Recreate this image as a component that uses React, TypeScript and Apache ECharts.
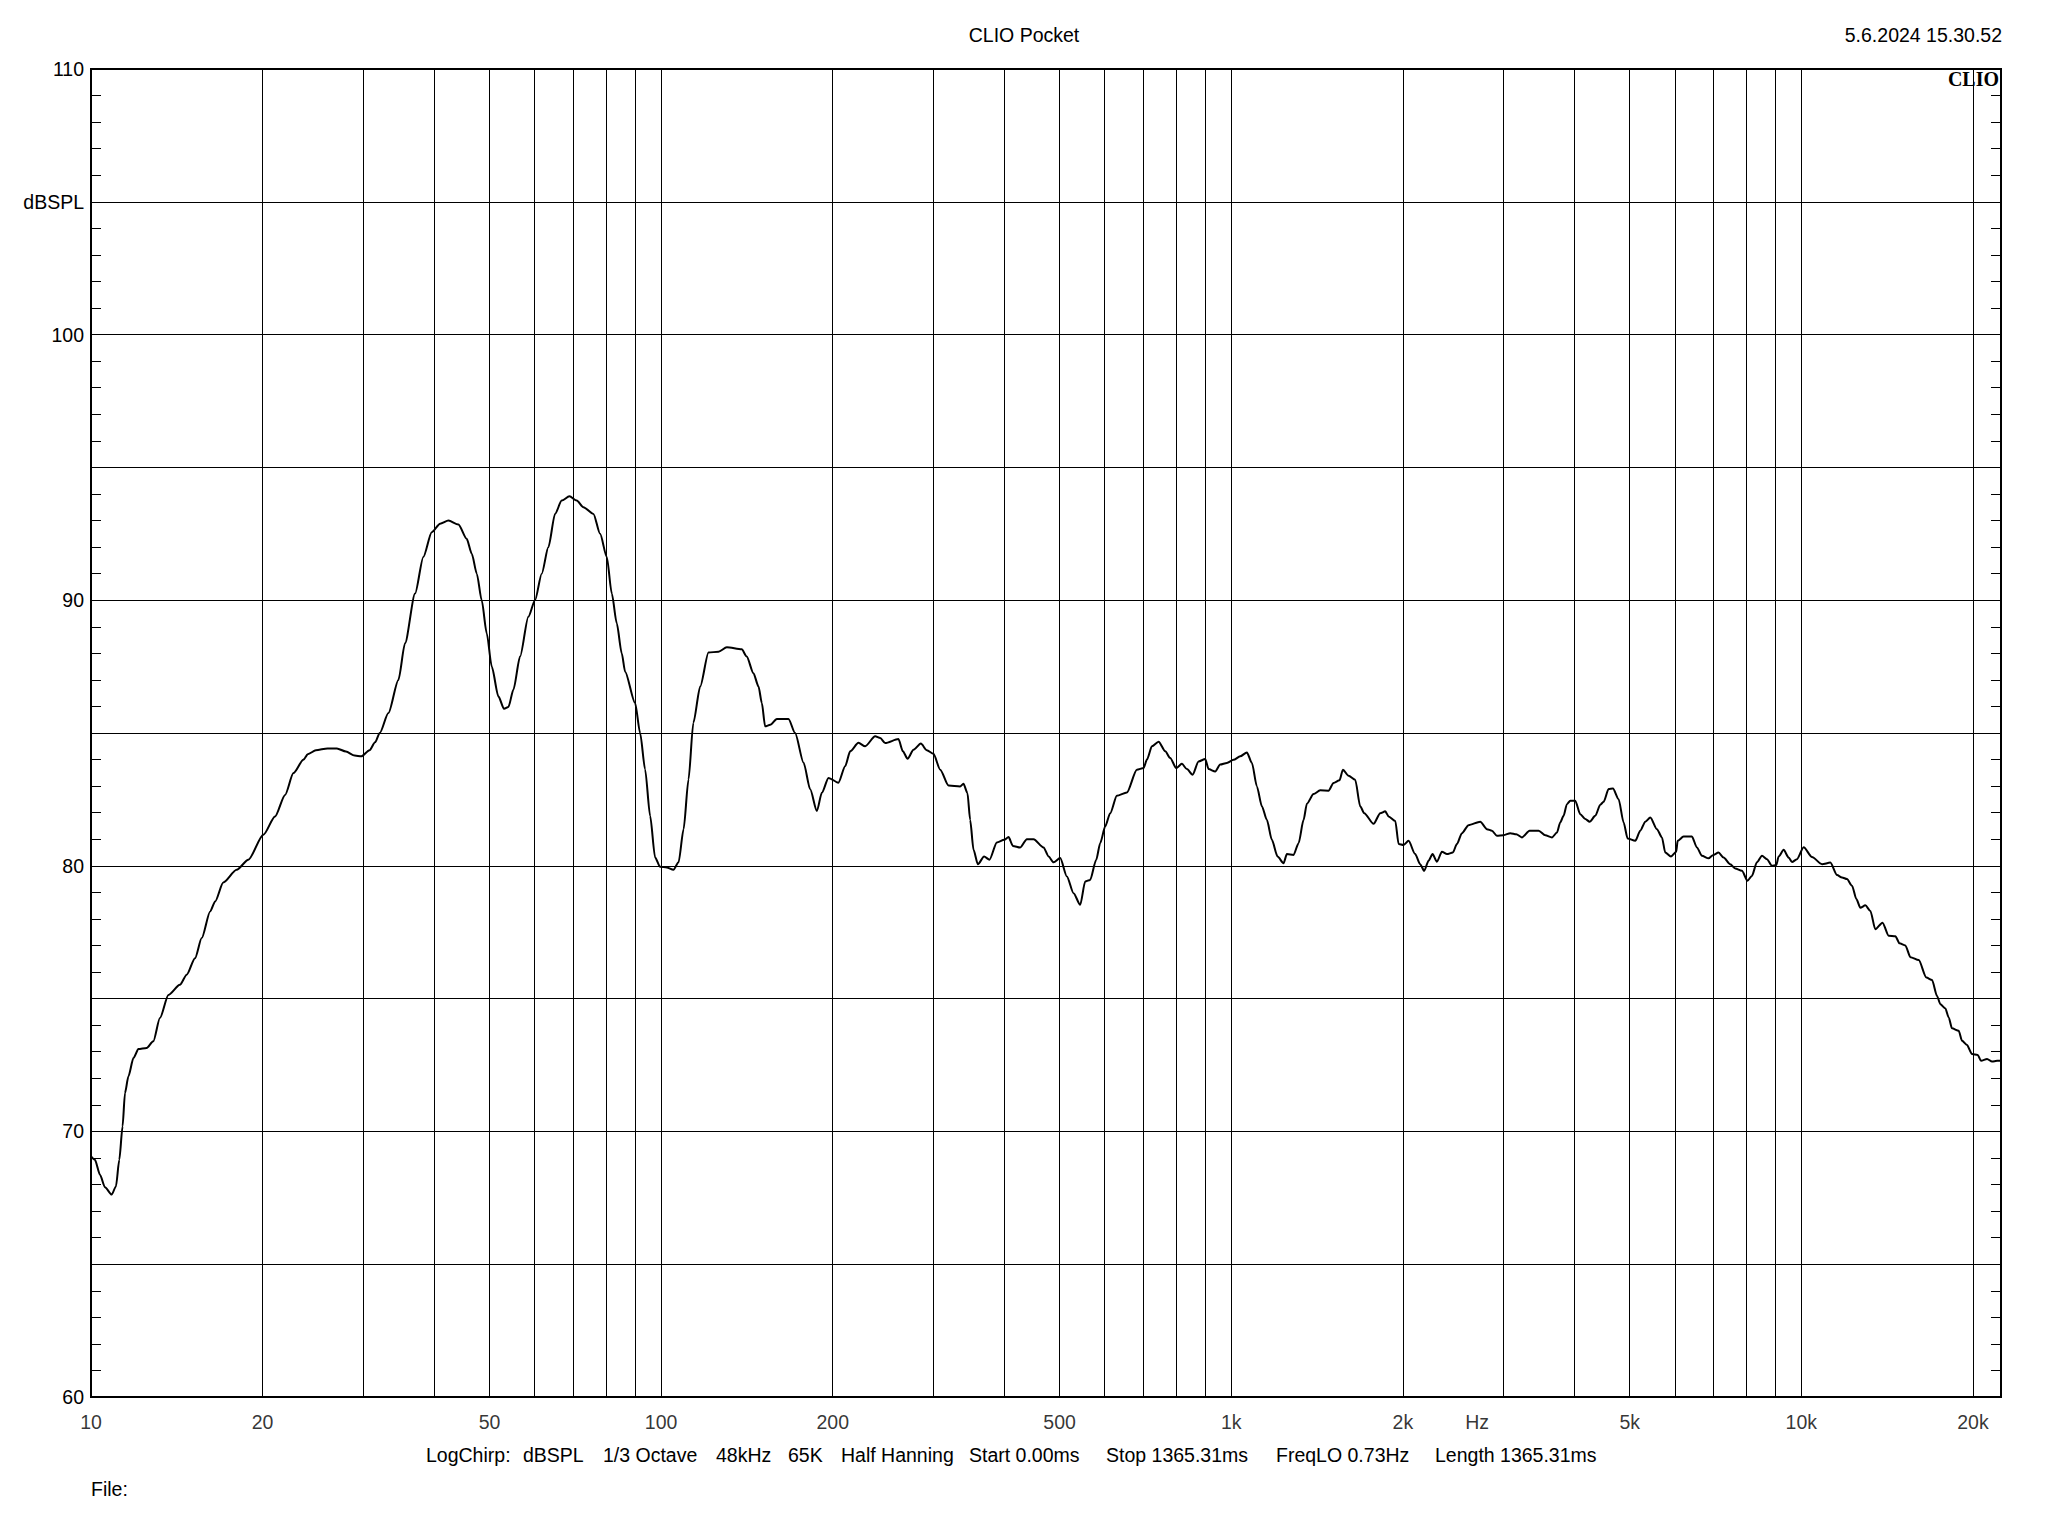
import React, { useEffect, useRef } from "react";
import * as echarts from "echarts";

const bassHz = [10, 10.16, 10.37, 10.58, 10.87, 11.06, 11.21, 11.36, 11.47, 11.63, 11.87, 12.11, 12.52, 12.86, 13.21, 13.67, 14.32, 14.72, 15.22, 15.64, 16.18, 16.51, 17.06, 18.01, 18.88, 20.06, 21.03, 21.9, 22.65, 23.58, 24.0, 24.8, 26.0, 27.0, 28.0, 29.0, 29.8, 30.8, 31.5, 32.1];
const bassDb = [69.06, 68.93, 68.37, 67.9, 67.62, 67.93, 68.93, 70.19, 71.44, 72.07, 72.76, 73.1, 73.14, 73.39, 74.27, 75.14, 75.52, 75.9, 76.52, 77.28, 78.28, 78.66, 79.37, 79.85, 80.23, 81.17, 81.86, 82.67, 83.49, 83.99, 84.2, 84.35, 84.42, 84.42, 84.3, 84.15, 84.12, 84.35, 84.65, 85.0];

const lowMidHz = [33.24, 34.61, 35.55, 37.02, 38.28, 39.6, 40.96, 42.36, 44.11, 45.6, 46.55, 47.5, 48.45, 49.45, 50.46, 51.83, 53.03, 53.97, 55.07, 56.57, 58.5, 60.1, 61.74, 63.43, 65.16, 66.94, 69.06, 71.12, 73.07, 76.08, 78.16, 80.3, 81.94, 83.6, 85.3, 86.46, 90.03, 91.87, 93.74, 95.66, 97.61, 99.6, 102.3, 105.1, 107.3, 109.5, 111.7, 113.9, 117.1, 121.1, 126.1, 130.4, 138.5, 141.3, 145.2, 148.2, 150.2, 152.2, 155.4, 159.6, 167.3, 171.8, 177.8, 182.6, 187.6, 191.4, 196.6, 204.6, 210.3, 214.6, 221.9, 228.0, 237.4];
const lowMidDb = [85.75, 87.0, 88.38, 90.25, 91.63, 92.56, 92.88, 93.0, 92.85, 92.31, 91.75, 91.0, 90.0, 88.75, 87.5, 86.38, 85.91, 85.98, 86.63, 87.88, 89.38, 90.0, 91.0, 92.0, 93.25, 93.75, 93.91, 93.75, 93.5, 93.25, 92.5, 91.63, 90.25, 89.13, 88.0, 87.31, 86.13, 85.0, 83.63, 81.88, 80.31, 79.96, 79.94, 79.85, 80.13, 81.38, 83.25, 85.38, 86.75, 88.03, 88.06, 88.23, 88.15, 87.88, 87.25, 86.75, 86.13, 85.25, 85.31, 85.53, 85.53, 85.0, 83.88, 82.88, 82.06, 82.75, 83.31, 83.13, 83.75, 84.31, 84.63, 84.5, 84.88];

const midHz = [242.3, 247.2, 260.8, 265.5, 270.6, 277.2, 285.5, 292.5, 300.4, 308.7, 319.3, 334.6, 339.1, 344.6, 348.4, 353.2, 359.4, 368.6, 376.7, 388.1, 399.8, 406.9, 414.0, 426.5, 438.1, 450.1, 468.7, 478.2, 487.9, 501.2, 514.9, 529.0, 543.4, 554.5, 565.7, 579.7, 589.1, 601.1, 613.4, 630.1, 656.1, 683.1, 702.0, 711.5, 726.0, 745.8, 766.2, 781.6, 800.8, 819.4, 836.1, 855.5, 876.4, 900.3, 912.7, 937.4, 956.5, 982.7, 1009.5, 1037, 1065.3, 1087.2, 1109.2, 1131.9, 1154.9, 1178.4, 1205.8, 1235.3, 1252.2, 1286.2, 1312.6, 1339.4, 1357.6, 1394.5, 1432.6, 1481.6, 1511.9, 1548.8, 1570, 1606.3, 1650.1, 1683.7, 1711.2, 1777.1, 1825.7, 1863, 1888.1];
const midDb = [84.81, 84.62, 84.77, 84.31, 84.03, 84.37, 84.6, 84.35, 84.22, 83.62, 83.02, 82.99, 83.09, 82.74, 81.73, 80.6, 80.06, 80.35, 80.23, 80.88, 80.98, 81.08, 80.75, 80.69, 81.0, 81.0, 80.69, 80.35, 80.13, 80.29, 79.6, 78.97, 78.53, 79.41, 79.47, 80.23, 80.85, 81.48, 81.98, 82.64, 82.76, 83.62, 83.68, 84.0, 84.5, 84.67, 84.31, 84.06, 83.68, 83.84, 83.64, 83.43, 83.93, 84.02, 83.64, 83.55, 83.81, 83.87, 83.99, 84.12, 84.27, 83.87, 82.99, 82.24, 81.73, 80.98, 80.35, 80.1, 80.44, 80.41, 80.85, 81.73, 82.34, 82.7, 82.84, 82.83, 83.12, 83.22, 83.62, 83.39, 83.24, 82.24, 81.98, 81.58, 81.98, 82.05, 81.86];

const highHz = [1940, 1966, 2006, 2047, 2102, 2145, 2180, 2219, 2255, 2295, 2342, 2390, 2448, 2488, 2539, 2608, 2734, 2809, 2866, 2924, 3004, 3087, 3162, 3235, 3337, 3462, 3556, 3653, 3727, 3777, 3828, 3880, 3933, 4013, 4095, 4179, 4253, 4351, 4440, 4500, 4592, 4673, 4781, 4879, 4958, 5114, 5218, 5325, 5434, 5582, 5695, 5772, 5906, 6035, 6067, 6215, 6428, 6560, 6693, 6875, 6998, 7158, 7305, 7504, 7657, 7866, 8047, 8190, 8357, 8531, 8705, 8882, 9039, 9125, 9311, 9501, 9630, 9826];
const highDb = [81.69, 80.82, 80.78, 80.94, 80.44, 80.06, 79.81, 80.19, 80.44, 80.15, 80.53, 80.44, 80.5, 80.82, 81.23, 81.53, 81.66, 81.38, 81.32, 81.13, 81.15, 81.23, 81.19, 81.07, 81.32, 81.32, 81.15, 81.07, 81.25, 81.63, 81.88, 82.32, 82.45, 82.45, 81.94, 81.76, 81.66, 81.88, 82.3, 82.41, 82.89, 82.91, 82.51, 81.63, 81.03, 80.94, 81.32, 81.66, 81.82, 81.38, 81.07, 80.5, 80.35, 80.53, 80.94, 81.1, 81.1, 80.69, 80.38, 80.28, 80.4, 80.5, 80.31, 80.06, 79.9, 79.81, 79.44, 79.62, 80.13, 80.38, 80.25, 80.0, 80.03, 80.35, 80.6, 80.31, 80.14, 80.25];

const topHz = [10095, 10440, 10873, 11244, 11552, 11786, 12026, 12272, 12489, 12692, 12951, 13215, 13485, 13880, 14230, 14619, 14870, 15222, 15540, 16066, 16571, 16955, 17298, 17533, 17892, 18135, 18380, 18880, 19138, 19525, 19924, 20388, 20664, 21174, 21604, 22045, 22400];
const topDb = [80.7, 80.33, 80.06, 80.12, 79.65, 79.56, 79.5, 79.25, 78.75, 78.42, 78.51, 78.3, 77.61, 77.86, 77.37, 77.35, 77.08, 77.0, 76.56, 76.45, 75.79, 75.7, 75.1, 74.79, 74.63, 74.29, 73.88, 73.79, 73.41, 73.25, 72.91, 72.88, 72.66, 72.73, 72.63, 72.66, 72.66];

// ---- axes ----
const freqMin = 10;
const freqMax = 22400;
const splMin = 60;
const splMax = 110;
const splStep = 5;
const gridHz = [20, 30, 40, 50, 60, 70, 80, 90, 100, 200, 300, 400, 500, 600, 700, 800, 900, 1000, 2000, 3000, 4000, 5000, 6000, 7000, 8000, 9000, 10000, 20000];
const xTickHz = [10, 20, 50, 100, 200, 500, 1000, 2000, 2700, 5000, 10000, 20000];
const xTickText = ["10", "20", "50", "100", "200", "500", "1k", "2k", "Hz", "5k", "10k", "20k"];
const yUnitLabel = "dBSPL";
const yUnitAt = 105;

// ---- texts ----
const titleText = "CLIO Pocket";
const dateText = "5.6.2024 15.30.52";
const logoText = "CLIO";
const infoTexts = ["LogChirp:", "dBSPL", "1/3 Octave", "48kHz", "65K", "Half Hanning", "Start 0.00ms", "Stop 1365.31ms", "FreqLO 0.73Hz", "Length 1365.31ms"];
const infoX = [426, 523, 603, 716, 788, 841, 969, 1106, 1276, 1435];
const fileText = "File:";

const FONT = '"Liberation Sans", Arial, sans-serif';
const FS = 19.5;

export default function App() {
  const ref = useRef<HTMLDivElement>(null);

  useEffect(() => {
    if (!ref.current) return;
    const chart = echarts.init(ref.current, null, { renderer: "svg" });

    const allHz = [...bassHz, ...lowMidHz, ...midHz, ...highHz, ...topHz];
    const allDb = [...bassDb, ...lowMidDb, ...midDb, ...highDb, ...topDb];
    const curve = allHz.map((f, i) => [f, allDb[i]]);

    const textStyleBase = { fill: "#000", fontSize: FS, fontFamily: FONT };

    const graphics: any[] = [
      { type: "text", x: 1024, y: 35, z: 10, style: { ...textStyleBase, text: titleText, align: "center", verticalAlign: "middle" } },
      { type: "text", x: 2002, y: 35, z: 10, style: { ...textStyleBase, text: dateText, align: "right", verticalAlign: "middle" } },
      { type: "text", x: 1999, y: 79, z: 10, style: { fill: "#000", text: logoText, fontSize: 20, fontWeight: "bold", fontFamily: '"Liberation Serif", "DejaVu Serif", serif', align: "right", verticalAlign: "middle" } },
      ...infoTexts.map((t, i) => ({ type: "text", x: infoX[i], y: 1455, z: 10, style: { ...textStyleBase, text: t, align: "left", verticalAlign: "middle" } })),
      { type: "text", x: 91, y: 1489, z: 10, style: { ...textStyleBase, text: fileText, align: "left", verticalAlign: "middle" } },
    ];

    const yAxisCommon = {
      type: "value",
      min: splMin,
      max: splMax,
      interval: splStep,
      axisLine: { show: false },
      axisTick: { show: true, inside: true, length: 10, lineStyle: { color: "#000", width: 1 } },
      minorTick: { show: true, splitNumber: 5, length: 10, lineStyle: { color: "#000", width: 1 } },
      minorSplitLine: { show: false },
    };

    chart.setOption({
      animation: false,
      backgroundColor: "#fff",
      grid: { left: 91, top: 69, width: 1910, height: 1328, show: true, borderColor: "#000", borderWidth: 2, backgroundColor: "transparent", z: 5 },
      xAxis: {
        type: "log",
        logBase: 10,
        min: freqMin,
        max: freqMax,
        axisLine: { show: false },
        axisTick: { show: false },
        axisLabel: { show: false },
        splitLine: { show: false },
        minorTick: { show: false },
        minorSplitLine: { show: false },
      },
      yAxis: [
        {
          ...yAxisCommon,
          position: "left",
          splitLine: { show: true, lineStyle: { color: "#000", width: 1 } },
          axisLabel: {
            show: true,
            margin: 7,
            color: "#000",
            fontSize: FS,
            fontFamily: FONT,
            formatter: (v: number) => (v === yUnitAt ? yUnitLabel : v % 10 === 0 ? String(v) : ""),
          },
        },
        {
          ...yAxisCommon,
          position: "right",
          splitLine: { show: false },
          axisLabel: { show: false },
        },
      ],
      graphic: graphics,
      series: [
        {
          type: "line",
          data: curve,
          xAxisIndex: 0,
          yAxisIndex: 0,
          showSymbol: false,
          symbol: "none",
          smooth: 0.25,
          smoothMonotone: "x",
          z: 4,
          lineStyle: { color: "#000", width: 2 },
          itemStyle: { color: "#000" },
          emphasis: { disabled: true },
          markLine: {
            silent: true,
            symbol: ["none", "none"],
            label: { show: false },
            lineStyle: { color: "#000", width: 1, type: "solid" },
            emphasis: { disabled: true },
            data: gridHz.map((f) => ({ xAxis: f })),
          },
        },
        {
          type: "scatter",
          data: xTickHz.map((f, i) => ({ value: [f, splMin], label: { formatter: xTickText[i] } })),
          symbolSize: 1,
          itemStyle: { color: "rgba(0,0,0,0)" },
          silent: true,
          clip: false,
          z: 6,
          label: {
            show: true,
            position: "bottom",
            distance: 14,
            color: "#000",
            fontSize: FS,
            fontFamily: FONT,
          },
        },
      ],
    });

    return () => chart.dispose();
  }, []);

  return (
    <div
      ref={ref}
      style={{ position: "absolute", left: 0, top: 0, width: 2048, height: 1536, background: "#fff" }}
    />
  );
}
